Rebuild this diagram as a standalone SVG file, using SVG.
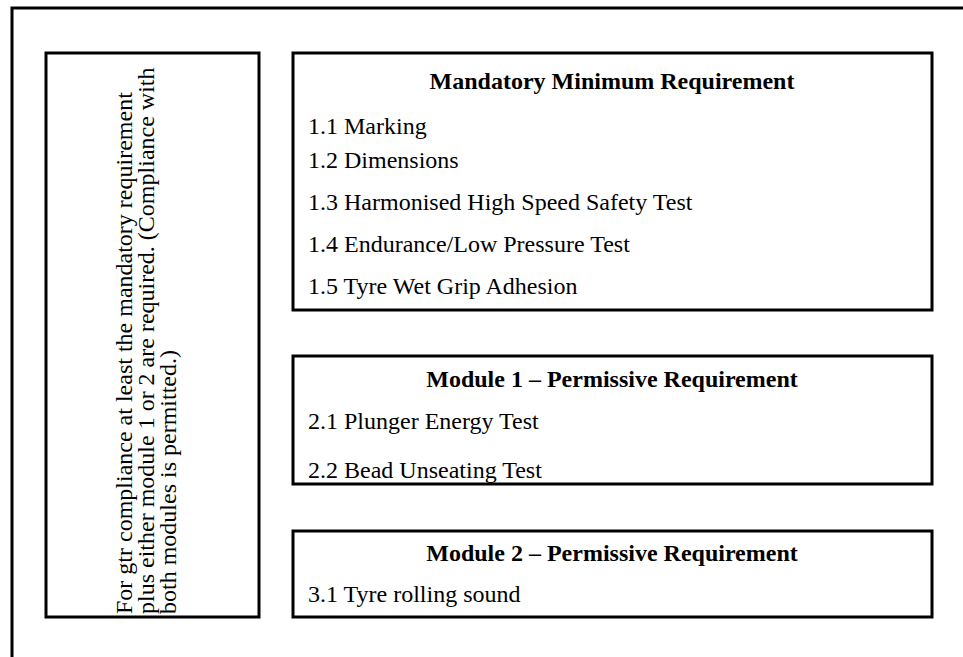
<svg xmlns="http://www.w3.org/2000/svg" width="963" height="657" viewBox="0 0 963 657">
<style>
.box{fill:#fff;stroke:#000;stroke-width:3}
.t{font-family:"Liberation Serif","Times New Roman",serif;font-size:24px;fill:#000}
.h{font-weight:bold;text-anchor:middle}
</style>
<rect width="963" height="657" fill="#fff"/>
<path d="M12 657 V8 H963" fill="none" stroke="#000" stroke-width="3"/>
<g id="note">
<rect class="box" x="46" y="53" width="213" height="564"/>
<g transform="translate(132,614) rotate(-90)">
<text class="t" x="0" y="0">For gtr compliance at least the mandatory requirement</text>
<text class="t" x="0" y="22">plus either module 1 or 2 are required. (Compliance with</text>
<text class="t" x="0" y="44">both modules is permitted.)</text>
</g>
</g>
<g id="mandatory">
<rect class="box" x="293" y="53" width="639" height="257"/>
<text class="t h" x="612" y="89">Mandatory Minimum Requirement</text>
<text class="t" x="308" y="134">1.1 Marking</text>
<text class="t" x="308" y="168">1.2 Dimensions</text>
<text class="t" x="308" y="210">1.3 Harmonised High Speed Safety Test</text>
<text class="t" x="308" y="252">1.4 Endurance/Low Pressure Test</text>
<text class="t" x="308" y="294">1.5 Tyre Wet Grip Adhesion</text>
</g>
<g id="module1">
<rect class="box" x="293" y="356" width="639" height="128"/>
<text class="t h" x="612" y="387">Module 1 – Permissive Requirement</text>
<text class="t" x="308" y="429">2.1 Plunger Energy Test</text>
<text class="t" x="308" y="478">2.2 Bead Unseating Test</text>
</g>
<g id="module2">
<rect class="box" x="293" y="531" width="639" height="86"/>
<text class="t h" x="612" y="561">Module 2 – Permissive Requirement</text>
<text class="t" x="308" y="602">3.1 Tyre rolling sound</text>
</g>
<g id="connectors"></g>
</svg>
